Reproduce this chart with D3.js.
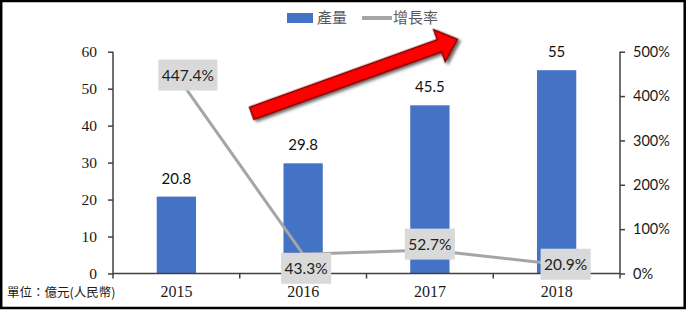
<!DOCTYPE html>
<html>
<head>
<meta charset="utf-8">
<script src="https://cdn.jsdelivr.net/npm/d3@7"></script>
<style>
  html, body { margin: 0; padding: 0; background: #fff; }
  svg { display: block; }
</style>
</head>
<body>
<svg id="chart"></svg>
<script>
// data
const years = ["2015", "2016", "2017", "2018"];
const output = [20.8, 29.8, 45.5, 55];          // 產量 (億元)
const growth = [4.474, 0.433, 0.527, 0.209];     // 增長率
const growthLabels = ["447.4%", "43.3%", "52.7%", "20.9%"];
const leftTicks = [0, 10, 20, 30, 40, 50, 60];
const rightTicks = [0, 1, 2, 3, 4, 5];

// label nudges (px) for the grey rate boxes
const boxShift = [[11.5, 0], [3, 14], [0, -6], [9, 0]];

const W = 687, H = 311;
const svg = d3.select("#chart").attr("width", W).attr("height", H);

const x = d3.scaleBand().domain(years).range([113, 620])
  .paddingInner(0.69).paddingOuter(0.345);
const yL = d3.scaleLinear().domain([0, 60]).range([273.5, 51.7]);
const yR = d3.scaleLinear().domain([0, 5]).range([273.5, 51.7]);

const axisColor = "#404040";
const sans = "Lato, 'Open Sans', sans-serif";
const serif = "'Liberation Serif', 'DejaVu Serif', serif";
const cjk = "'Noto Sans CJK TC', 'Noto Sans CJK SC', sans-serif";

// frame
svg.append("rect")
  .attr("x", 1.2).attr("y", 1).attr("width", 683.5).attr("height", 307)
  .attr("fill", "none").attr("stroke", "#000").attr("stroke-width", 2.5);

// shadow filter for the arrow
const defs = svg.append("defs");
defs.append("filter").attr("id", "shadow")
  .attr("x", "-20%").attr("y", "-40%").attr("width", "140%").attr("height", "180%")
  .append("feDropShadow")
  .attr("dx", 2).attr("dy", 2.5).attr("stdDeviation", 1.5)
  .attr("flood-color", "#000").attr("flood-opacity", 0.6);

// bars
svg.append("g").selectAll("rect")
  .data(output)
  .join("rect")
  .attr("x", (d, i) => x(years[i]))
  .attr("y", d => yL(d))
  .attr("width", x.bandwidth())
  .attr("height", d => yL(0) - yL(d))
  .attr("fill", "#4472c4");

// bar value labels
svg.append("g").selectAll("text")
  .data(output)
  .join("text")
  .attr("x", (d, i) => x(years[i]) + x.bandwidth() / 2)
  .attr("y", d => yL(d) - 13)
  .attr("text-anchor", "middle")
  .attr("font-family", sans).attr("font-size", 15)
  .attr("fill", "#111")
  .text(d => d);

// left axis
const gL = svg.append("g").attr("transform", "translate(113,0)")
  .call(d3.axisLeft(yL).tickValues(leftTicks).tickSize(5).tickPadding(11).tickSizeOuter(0));
gL.select(".domain").attr("stroke", axisColor).attr("stroke-width", 1.5)
  .attr("d", `M0,${yL(60)}V${yL(0) + 5}`);
gL.selectAll(".tick line").attr("stroke", axisColor).attr("stroke-width", 1.5);
gL.selectAll(".tick text").attr("font-family", serif).attr("font-size", 15.5).attr("fill", "#1a1a1a");

// right axis
const gR = svg.append("g").attr("transform", "translate(620,0)")
  .call(d3.axisRight(yR).tickValues(rightTicks).tickSize(5).tickPadding(8).tickSizeOuter(0)
    .tickFormat(d => d * 100 + "%"));
gR.select(".domain").attr("stroke", axisColor).attr("stroke-width", 1.5)
  .attr("d", `M0,${yR(5)}V${yR(0) + 5}`);
gR.selectAll(".tick line").attr("stroke", axisColor).attr("stroke-width", 1.5);
gR.selectAll(".tick text").attr("font-family", sans).attr("font-size", 14.5).attr("fill", "#1a1a1a");

// bottom axis: line, boundary ticks, year labels
const gB = svg.append("g");
const [x0, x1] = x.range();
gB.append("line")
  .attr("x1", x0).attr("x2", x1).attr("y1", yL(0)).attr("y2", yL(0))
  .attr("stroke", axisColor).attr("stroke-width", 1.5);
gB.selectAll("line.tk")
  .data(d3.range(1, years.length))
  .join("line").attr("class", "tk")
  .attr("x1", i => x0 + i * x.step()).attr("x2", i => x0 + i * x.step())
  .attr("y1", yL(0)).attr("y2", yL(0) + 5)
  .attr("stroke", axisColor).attr("stroke-width", 1.5);
gB.selectAll("text")
  .data(years)
  .join("text")
  .attr("x", d => x(d) + x.bandwidth() / 2)
  .attr("y", 297)
  .attr("text-anchor", "middle")
  .attr("font-family", serif).attr("font-size", 16)
  .attr("fill", "#1a1a1a")
  .text(d => d);

// unit note
svg.append("text")
  .attr("x", 7).attr("y", 296.5)
  .attr("font-family", cjk).attr("font-size", 12.5)
  .attr("fill", "#1a1a1a")
  .text("單位：億元(人民幣)");

// growth line
const pts = growth.map((g, i) => [x(years[i]) + x.bandwidth() / 2, yR(g)]);
svg.append("path")
  .attr("d", d3.line()(pts))
  .attr("fill", "none")
  .attr("stroke", "#a5a5a5")
  .attr("stroke-width", 3);

// growth labels in grey boxes
const lab = svg.append("g").selectAll("g")
  .data(growthLabels)
  .join("g")
  .attr("transform", (d, i) => `translate(${pts[i][0] + boxShift[i][0]},${pts[i][1] + boxShift[i][1]})`);
const boxRects = lab.append("rect").attr("fill", "#d9d9d9");
const boxTexts = lab.append("text")
  .attr("text-anchor", "middle")
  .attr("dy", "0.36em")
  .attr("font-family", sans).attr("font-size", 15.5)
  .attr("fill", "#222")
  .text(d => d);
boxTexts.each(function (d, i) {
  const w = this.getComputedTextLength() + 7;
  d3.select(boxRects.nodes()[i])
    .attr("x", -w / 2).attr("y", -15.5).attr("width", w).attr("height", 31);
});

// red trend arrow (annotation)
const tail = [251.7, 113.3], tip = [457.3, 39.3];
const shaftW = 13, headW = 34, headL = 19;
const dx = tip[0] - tail[0], dy = tip[1] - tail[1];
const len = Math.hypot(dx, dy);
const ang = Math.atan2(dy, dx) * 180 / Math.PI;
const arrowPts = [
  [0, -shaftW / 2], [len - headL, -shaftW / 2], [len - headL, -headW / 2],
  [len, 0], [len - headL, headW / 2], [len - headL, shaftW / 2], [0, shaftW / 2]
];
svg.append("path")
  .attr("transform", `translate(${tail[0]},${tail[1]}) rotate(${ang})`)
  .attr("d", "M" + arrowPts.map(p => p.join(",")).join("L") + "Z")
  .attr("fill", "#ff0000")
  .attr("stroke", "#7a0000")
  .attr("stroke-width", 1.5)
  .attr("stroke-linejoin", "miter")
  .attr("filter", "url(#shadow)");

// legend
const leg = svg.append("g");
leg.append("rect").attr("x", 287).attr("y", 13).attr("width", 26).attr("height", 10).attr("fill", "#4472c4");
leg.append("text").attr("x", 317).attr("y", 23)
  .attr("font-family", cjk).attr("font-size", 15).attr("fill", "#595959").text("產量");
leg.append("line").attr("x1", 362).attr("x2", 392).attr("y1", 18).attr("y2", 18)
  .attr("stroke", "#a5a5a5").attr("stroke-width", 4);
leg.append("text").attr("x", 393).attr("y", 23)
  .attr("font-family", cjk).attr("font-size", 15).attr("fill", "#595959").text("增長率");
</script>
</body>
</html>
